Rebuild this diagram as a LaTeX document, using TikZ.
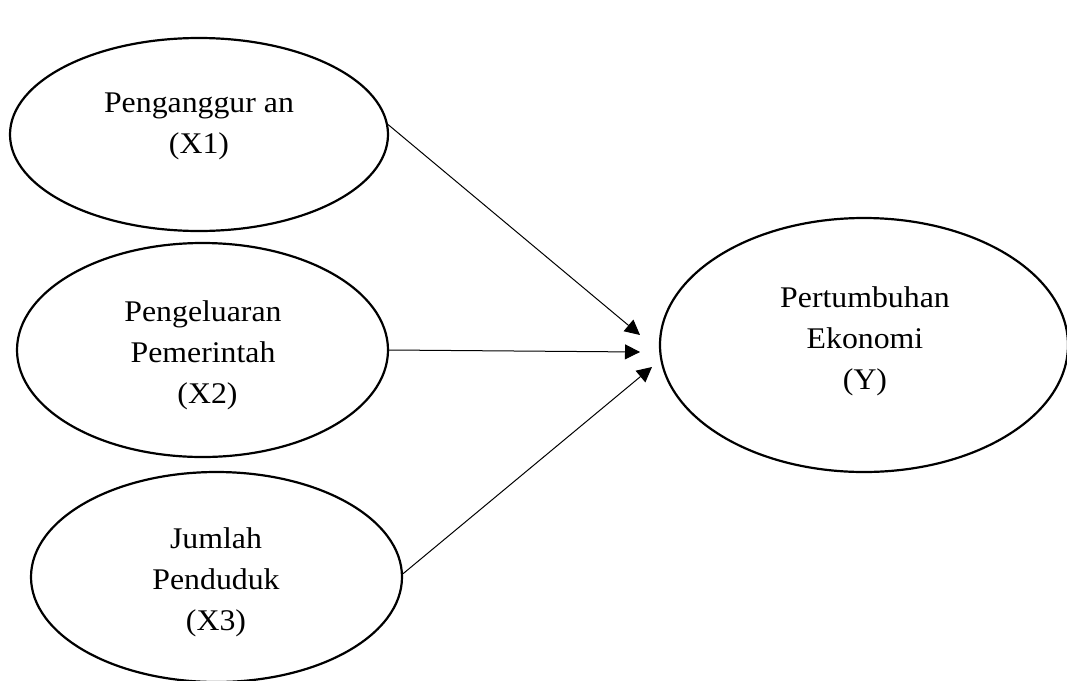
\documentclass[tikz,border=0pt]{standalone}
\usepackage{fontspec}
\setmainfont[FakeStretch=1.06]{Liberation Serif}
\usetikzlibrary{shapes.geometric,arrows.meta}
\begin{document}
\begin{tikzpicture}[x=1pt,y=-1pt,
  var/.style={draw,line width=2.2pt,ellipse,inner sep=0pt},
  lbl/.style={align=center,inner sep=0pt,font=\fontsize{30}{41}\selectfont},
  link/.style={line width=1pt,-{Triangle[length=15pt,width=15pt]}}]
\useasboundingbox (0,0) rectangle (1067,680);
% ellipses
\node[var,minimum width=378pt,minimum height=193pt] (x1) at (199,134.5) {};
\node[var,minimum width=371pt,minimum height=214pt] (x2) at (202.5,350) {};
\node[var,minimum width=371pt,minimum height=210pt] (x3) at (216.5,577) {};
\node[var,minimum width=408pt,minimum height=254pt] (y) at (864,345) {};
% labels
\node[lbl] (x1t) at (199,126.8) {Penganggur an\\(X1)};
\node[lbl] (x2t) at (203,355.3) {Pengeluaran\\Pemerintah\\\hspace*{9pt}(X2)};
\node[lbl] (x3t) at (216,582) {Jumlah\\Penduduk\\(X3)};
\node[lbl] (yt) at (865,340.8) {Pertumbuhan\\Ekonomi\\(Y)};
% arrow tips
\coordinate (t1) at (640,335);
\coordinate (t2) at (640,352);
\coordinate (t3) at (652,367);
\draw[link] (x1.3.6) -- (t1);
\draw[link] (x2.east) -- (t2);
\draw[link] (x3.1.5) -- (t3);
\end{tikzpicture}
\end{document}
